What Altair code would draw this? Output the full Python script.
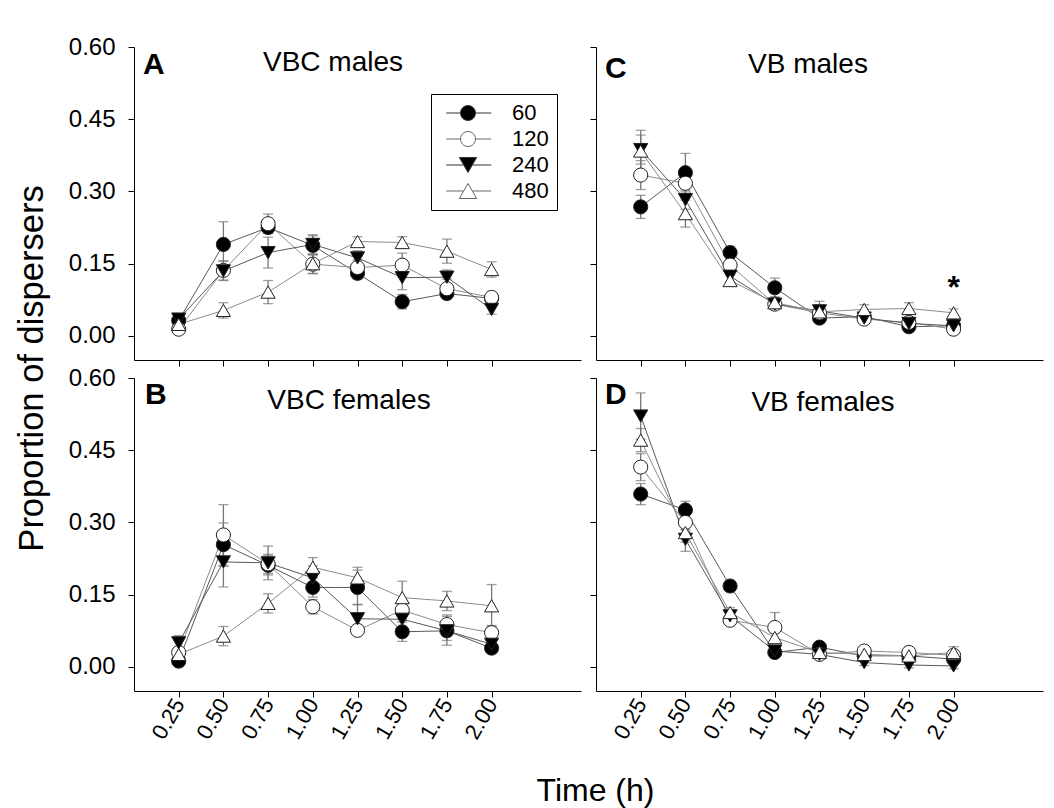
import altair as alt
import pandas as pd

FONT = "Liberation Sans"

times = [0.25, 0.50, 0.75, 1.00, 1.25, 1.50, 1.75, 2.00]
series = ["60", "120", "240", "480"]
y_ticks = [0.0, 0.15, 0.30, 0.45, 0.60]

# Panel A - VBC males
vbc_males_mean = {
    "60":  [0.032, 0.190, 0.225, 0.188, 0.130, 0.071, 0.088, 0.078],
    "120": [0.014, 0.136, 0.233, 0.149, 0.142, 0.147, 0.098, 0.080],
    "240": [0.035, 0.135, 0.173, 0.190, 0.162, 0.121, 0.122, 0.055],
    "480": [0.024, 0.053, 0.091, 0.150, 0.196, 0.194, 0.176, 0.138],
}
vbc_males_se = {
    "60":  [0.010, 0.047, 0.012, 0.020, 0.012, 0.015, 0.010, 0.010],
    "120": [0.010, 0.020, 0.020, 0.020, 0.015, 0.025, 0.020, 0.010],
    "240": [0.010, 0.020, 0.032, 0.020, 0.015, 0.025, 0.015, 0.010],
    "480": [0.015, 0.016, 0.024, 0.020, 0.010, 0.012, 0.025, 0.016],
}
# Panel B - VBC females
vbc_females_mean = {
    "60":  [0.012, 0.254, 0.211, 0.165, 0.165, 0.073, 0.075, 0.039],
    "120": [0.030, 0.274, 0.214, 0.125, 0.076, 0.118, 0.088, 0.071],
    "240": [0.050, 0.218, 0.216, 0.185, 0.100, 0.099, 0.075, 0.047],
    "480": [0.026, 0.064, 0.132, 0.207, 0.185, 0.144, 0.137, 0.127],
}
vbc_females_se = {
    "60":  [0.010, 0.045, 0.020, 0.020, 0.036, 0.020, 0.020, 0.010],
    "120": [0.010, 0.063, 0.020, 0.015, 0.010, 0.020, 0.020, 0.015],
    "240": [0.015, 0.052, 0.035, 0.025, 0.030, 0.020, 0.030, 0.010],
    "480": [0.010, 0.020, 0.020, 0.020, 0.022, 0.034, 0.020, 0.044],
}
# Panel C - VB males
vb_males_mean = {
    "60":  [0.268, 0.339, 0.173, 0.100, 0.037, 0.040, 0.019, 0.021],
    "120": [0.334, 0.317, 0.147, 0.066, 0.048, 0.035, 0.028, 0.014],
    "240": [0.387, 0.283, 0.124, 0.066, 0.052, 0.037, 0.026, 0.021],
    "480": [0.384, 0.254, 0.115, 0.069, 0.050, 0.055, 0.057, 0.048],
}
vb_males_se = {
    "60":  [0.024, 0.040, 0.013, 0.020, 0.010, 0.008, 0.008, 0.006],
    "120": [0.030, 0.030, 0.015, 0.010, 0.010, 0.008, 0.008, 0.006],
    "240": [0.030, 0.020, 0.012, 0.010, 0.012, 0.008, 0.008, 0.006],
    "480": [0.043, 0.028, 0.012, 0.012, 0.022, 0.010, 0.012, 0.008],
}
# Panel D - VB females
vb_females_mean = {
    "60":  [0.359, 0.326, 0.168, 0.030, 0.041, 0.023, 0.023, 0.016],
    "120": [0.415, 0.300, 0.097, 0.082, 0.026, 0.033, 0.030, 0.024],
    "240": [0.521, 0.265, 0.106, 0.033, 0.026, 0.009, 0.004, 0.002],
    "480": [0.471, 0.279, 0.113, 0.061, 0.030, 0.026, 0.023, 0.030],
}
vb_females_se = {
    "60":  [0.022, 0.018, 0.010, 0.008, 0.008, 0.006, 0.006, 0.006],
    "120": [0.028, 0.015, 0.010, 0.031, 0.008, 0.010, 0.010, 0.010],
    "240": [0.048, 0.025, 0.010, 0.008, 0.008, 0.006, 0.006, 0.006],
    "480": [0.024, 0.020, 0.010, 0.010, 0.010, 0.010, 0.010, 0.012],
}

panel_letters = ["A", "B", "C", "D"]
panel_titles = ["VBC males", "VBC females", "VB males", "VB females"]
asterisk_x = [2.00]
asterisk_y = [0.078]

W, H = 447, 313

shape_range = ["circle", "circle", "triangle-down", "triangle-up"]
fill_range = ["black", "white", "black", "white"]
line_range = ["#595959", "#8c8c8c", "#595959", "#8c8c8c"]
legend_stroke_range = ["#333333", "#666666", "#333333", "#666666"]
legend_paths = [
    "M-2.9,0L-1,0M1,0L3.1,0M-1,0A1,1,0,1,0,1,0A1,1,0,1,0,-1,0Z",
    "M-2.9,0L-1,0M1,0L3.1,0M-1,0A1,1,0,1,0,1,0A1,1,0,1,0,-1,0Z",
    "M-2.9,0L-0.6,0M0.6,0L3.1,0M-1.15,-1L1.15,-1L0,1Z",
    "M-2.9,0L-0.6,0M0.6,0L3.1,0M-1.15,1L1.15,1L0,-1Z",
]


def make_df(means, ses):
    rows = []
    for s in series:
        for t, m, e in zip(times, means[s], ses[s]):
            rows.append({"time": t, "series": s, "mean": m, "lo": m - e, "hi": m + e})
    return pd.DataFrame(rows)


def panel(means, ses, idx, top_row, left_col, letter_pos, title_pos,
          legend=False, asterisk=False):
    df = make_df(means, ses)
    xscale = alt.Scale(domain=[0, 2.5], nice=False, zero=False)
    yscale = alt.Scale(domain=[-0.05, 0.6], nice=False, zero=False)

    if top_row:
        xaxis = alt.Axis(values=times, labels=False, tickSize=6, title=None, grid=False)
    else:
        xkw = dict(values=times, format=".2f", labelAngle=300, labelFontSize=22,
                   tickSize=6, labelPadding=3, grid=False)
        if idx == 1:
            xaxis = alt.Axis(title="Time (h)", titleFontSize=32, titleFontWeight="normal",
                             titleX=461, titleY=109, titleBaseline="alphabetic",
                             titleAlign="center", **xkw)
        else:
            xaxis = alt.Axis(title=None, **xkw)
    if left_col:
        ykw = dict(values=y_ticks, format=".2f", labelFontSize=24, tickSize=6,
                   labelPadding=13, grid=False)
        if idx == 0:
            yaxis = alt.Axis(title="Proportion of dispersers", titleFontSize=34.5,
                             titleFontWeight="normal", titleAngle=270, titleX=-92,
                             titleY=321, titleBaseline="alphabetic", titleAlign="center",
                             **ykw)
        else:
            yaxis = alt.Axis(title=None, **ykw)
    else:
        yaxis = alt.Axis(values=y_ticks, labels=False, tickSize=6, title=None, grid=False)

    X = alt.X("time:Q", scale=xscale, axis=xaxis)
    base = alt.Chart(df)

    err = base.mark_rule(color="#777777", strokeWidth=1.3).encode(
        x=X, y=alt.Y("lo:Q", scale=yscale, axis=yaxis), y2="hi:Q")
    cap_lo = base.mark_tick(orient="horizontal", size=10, thickness=1.3, color="#777777").encode(
        x=X, y=alt.Y("lo:Q", scale=yscale, axis=yaxis))
    cap_hi = base.mark_tick(orient="horizontal", size=10, thickness=1.3, color="#777777").encode(
        x=X, y=alt.Y("hi:Q", scale=yscale, axis=yaxis))
    lines = base.mark_line(strokeWidth=1).encode(
        x=X, y=alt.Y("mean:Q", scale=yscale, axis=yaxis),
        stroke=alt.Stroke("series:N", scale=alt.Scale(domain=series, range=line_range), legend=None),
        detail="series:N")
    pts = base.mark_point(filled=True, size=200, opacity=1, stroke="#222222", strokeWidth=1).encode(
        x=X, y=alt.Y("mean:Q", scale=yscale, axis=yaxis),
        shape=alt.Shape("series:N", scale=alt.Scale(domain=series, range=shape_range), legend=None),
        fill=alt.Fill("series:N", scale=alt.Scale(domain=series, range=fill_range), legend=None))

    letter = alt.Chart(pd.DataFrame({"label": [panel_letters[idx]]})).mark_text(
        align="left", baseline="alphabetic", fontSize=30, fontWeight="bold", font=FONT,
        color="black").encode(text="label:N", x=alt.value(letter_pos[0]), y=alt.value(letter_pos[1]))
    title = alt.Chart(pd.DataFrame({"label": [panel_titles[idx]]})).mark_text(
        align="center", baseline="alphabetic", fontSize=28, font=FONT,
        color="black").encode(text="label:N", x=alt.value(title_pos[0]), y=alt.value(title_pos[1]))

    layers = [err, cap_lo, cap_hi, lines, pts, letter, title]

    if asterisk:
        ast = alt.Chart(pd.DataFrame({"time": asterisk_x, "mean": asterisk_y, "label": ["*"]})).mark_text(
            align="center", baseline="alphabetic", fontSize=32, fontWeight="bold", font=FONT,
            color="black").encode(x=X, y=alt.Y("mean:Q", scale=yscale, axis=yaxis), text="label:N")
        layers.append(ast)

    if legend:
        lg = alt.Legend(title=None, orient="none", legendX=297, legendY=47,
                        strokeColor="black", fillColor="white", padding=8,
                        labelFontSize=22, labelFont=FONT, labelColor="black",
                        symbolSize=225, symbolStrokeWidth=1,
                        symbolOffset=18, labelOffset=33, rowPadding=4,
                        symbolOpacity=1)
        leg = base.transform_filter("false").mark_point(
            filled=True, size=225, opacity=1, strokeWidth=1).encode(
            x=X, y=alt.Y("mean:Q", scale=yscale, axis=yaxis),
            shape=alt.Shape("series:N", title=None,
                            scale=alt.Scale(domain=series, range=legend_paths), legend=lg),
            fill=alt.Fill("series:N", title=None,
                          scale=alt.Scale(domain=series, range=fill_range), legend=lg),
            stroke=alt.Stroke("series:N", title=None,
                              scale=alt.Scale(domain=series, range=legend_stroke_range), legend=lg))
        layers.append(leg)
        ch = alt.layer(*layers).resolve_scale(shape="independent", fill="independent",
                                              stroke="independent")
    else:
        ch = alt.layer(*layers)
    return ch.properties(width=W, height=H)


pA = panel(vbc_males_mean, vbc_males_se, 0, True, True, (9, 27), (199, 24), legend=True)
pB = panel(vbc_females_mean, vbc_females_se, 1, False, True, (11, 26), (215, 31))
pC = panel(vb_males_mean, vb_males_se, 2, True, False, (9, 31), (212, 26), asterisk=True)
pD = panel(vb_females_mean, vb_females_se, 3, False, False, (9, 26), (227, 33))

chart = alt.concat(pA, pC, pB, pD, columns=2, spacing={"row": 18, "column": 15},
                   bounds="flush").resolve_scale(
    shape="independent", fill="independent", stroke="independent"
).properties(
    padding={"left": 14, "top": 35, "right": 5, "bottom": 5},
    background="white",
).configure_view(stroke=None).configure_axis(
    domainColor="black", tickColor="black", labelColor="black", titleColor="black",
    labelFont=FONT, titleFont=FONT, domainWidth=1, tickWidth=1,
)

chart.save("out.html", embed_options={"renderer": "svg", "actions": False})
